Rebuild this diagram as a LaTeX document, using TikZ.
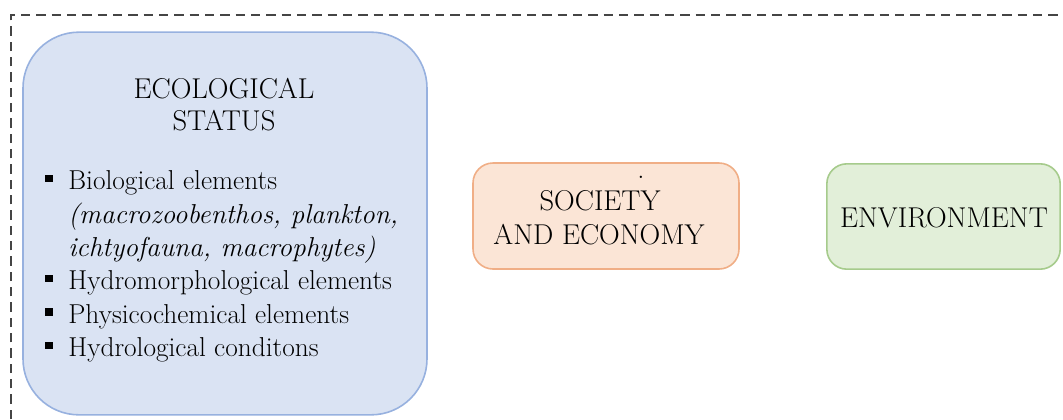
\documentclass[tikz,border=0pt]{standalone}
\usetikzlibrary{positioning}
\usepackage{xcolor}
\definecolor{ecofill}{HTML}{DAE3F3}
\definecolor{ecoline}{HTML}{97B1DF}
\definecolor{socfill}{HTML}{FBE5D6}
\definecolor{socline}{HTML}{F0AE86}
\definecolor{envfill}{HTML}{E2EFD9}
\definecolor{envline}{HTML}{A6CB8C}
\definecolor{frameline}{HTML}{454545}
\newcommand{\sqbullet}{\makebox[17.3pt][l]{\raisebox{5.6pt}{\rule{5.6pt}{5.6pt}}}}

\begin{document}
\begin{tikzpicture}[x=0.75pt,y=-0.75pt,
        box/.style={draw,line width=1.2pt,inner sep=0pt},
        txt/.style={inner sep=0pt,font=\fontsize{20.5}{24}\selectfont},
        caps/.style={inner sep=0pt,anchor=base,font=\fontsize{21.5}{24}\selectfont},
        item/.style={txt,anchor=base west}]
        \useasboundingbox (0,0) rectangle (1063,419);
        \draw [frameline,line width=1pt,dash pattern=on 7pt off 4.5pt] (11,419) -- (11,15) -- (1063,15);

        \node [box,rounded corners=42pt,fill=ecofill,draw=ecoline,minimum width=303pt,minimum height=287pt] (1) at (225,223.5) {};
        \node [box,rounded corners=15pt,fill=socfill,draw=socline,minimum width=199.5pt,minimum height=79.5pt] (2) at (606,216) {};
        \node [box,rounded corners=15pt,fill=envfill,draw=envline,minimum width=175pt,minimum height=79pt] (3) at (943.5,216.5) {};

        \node [caps] (1t) at (224,98) {ECOLOGICAL};
        \node [caps] (1s) at (224,130) {STATUS};
        \node [item] (1a) at (45,189.5) {\sqbullet Biological elements};
        \node [item] (1b) at (68,223) {\itshape (macrozoobenthos, plankton,};
        \node [item] (1c) at (68,256) {\itshape ichtyofauna, macrophytes)};
        \node [item] (1d) at (45,289.5) {\sqbullet Hydromorphological elements};
        \node [item] (1e) at (45,323) {\sqbullet Physicochemical elements};
        \node [item] (1f) at (45,356.5) {\sqbullet Hydrological conditons};

        \node [caps] (2d) at (641,178) {.};
        \node [caps] (2a) at (600,210) {SOCIETY};
        \node [caps] (2b) at (599,244) {AND ECONOMY};

        \node [caps] (3a) at (944,227) {ENVIRONMENT};
    \end{tikzpicture}
\end{document}
